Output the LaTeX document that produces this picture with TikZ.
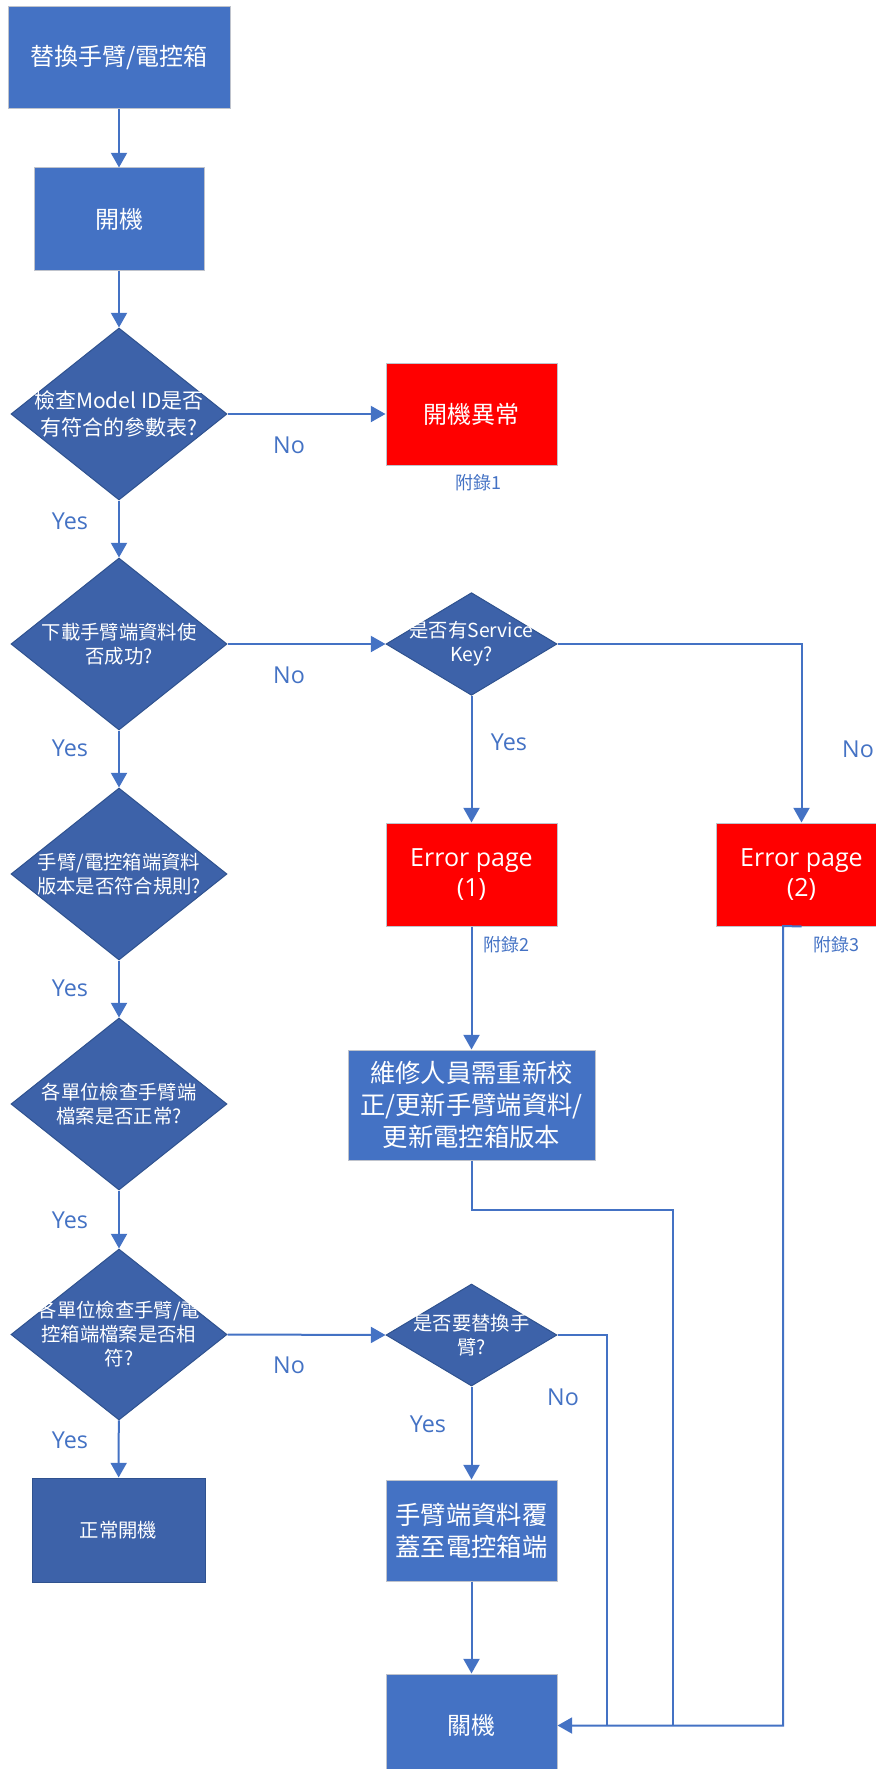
\documentclass[tikz,border=0pt]{standalone}
\usepackage{fontspec}
\setmainfont{Noto Sans CJK TC}
\newfontfamily\lat{Open Sans}
\usetikzlibrary{shapes.geometric,arrows.meta}
\definecolor{boxblue}{HTML}{4472C4}
\definecolor{diablue}{HTML}{3D62A9}
\definecolor{diaedge}{HTML}{2F528F}
\definecolor{boxedge}{HTML}{BFC3CC}
\definecolor{errred}{HTML}{FF0000}
\definecolor{lineblue}{HTML}{4472C4}
\begin{document}
\begin{tikzpicture}[x=0.75pt,y=-0.75pt,
  proc/.style={rectangle, draw=boxedge, line width=0.75pt, fill=boxblue, text=white, align=center, inner sep=0pt,
    font=\fontsize{18pt}{24pt}\selectfont},
  proctwo/.style={proc, font=\fontsize{19pt}{24pt}\selectfont},
  errbox/.style={proc, fill=errred},
  errtext/.style={errbox, font=\lat\fontsize{18.75pt}{22.5pt}\selectfont},
  darkproc/.style={proc, fill=diablue, draw=diaedge, font=\fontsize{14.5pt}{18pt}\selectfont},
  dec/.style={diamond, draw=diaedge, line width=0.75pt, fill=diablue, inner sep=0pt,
    minimum width=162pt, minimum height=129pt},
  decsmall/.style={dec, minimum width=128.25pt, minimum height=77pt},
  dtext/.style={text=white, align=center, inner sep=0pt, font=\fontsize{14.5pt}{18pt}\selectfont},
  dtextbig/.style={dtext, font=\fontsize{15.75pt}{20pt}\selectfont},
  ln/.style={draw=lineblue, line width=1.5pt},
  arr/.style={ln, -{Triangle[length=11pt,width=12pt]}},
  yn/.style={text=lineblue, inner sep=0pt, font=\lat\fontsize{17.5pt}{20pt}\selectfont},
  appx/.style={text=lineblue, inner sep=0pt, font=\fontsize{13.5pt}{16pt}\selectfont},
  ]
\useasboundingbox (0,0) rectangle (875,1769);

% left column
\node[proc, minimum width=166.5pt, minimum height=76.5pt] (start) at (119,58) {替換手臂/電控箱};
\node[proc, minimum width=127.5pt, minimum height=76.5pt] (boot) at (119,219) {開機};
\node[dec] (d1) at (119,414) {};
\node[dtextbig] (d1t) at (d1) {檢查Model ID是否\\有符合的參數表?};
\node[dec] (d2) at (119,644) {};
\node[dtext] (d2t) at (d2) {下載手臂端資料使\\否成功?};
\node[dec] (d3) at (119,874) {};
\node[dtext] (d3t) at (d3) {手臂/電控箱端資料\\版本是否符合規則?};
\node[dec] (d4) at (119,1104) {};
\node[dtext] (d4t) at (d4) {各單位檢查手臂端\\檔案是否正常?};
\node[dec, minimum height=128.25pt] (d5) at (119,1334.5) {};
\node[dtext] (d5t) at (d5) {各單位檢查手臂/電\\控箱端檔案是否相\\符?};
\node[darkproc, minimum width=129.75pt, minimum height=78pt] (normal) at (118.5,1530) {正常開機};

% middle column
\node[errbox, minimum width=128.25pt, minimum height=76.5pt] (err0) at (471.5,414) {開機異常};
\node[appx] (ap1) at (478,483) {附錄1};
\node[decsmall] (dsk) at (471.5,644) {};
\node[dtext] (dskt) at (dsk) {是否有Service\\Key?};
\node[errtext, minimum width=128.25pt, minimum height=77.25pt] (err1) at (471.5,874.5) {Error page\\(1)};
\node[appx] (ap2) at (506,945) {附錄2};
\node[proctwo, minimum width=185.25pt, minimum height=82.5pt] (fix) at (471.5,1105) {維修人員需重新校\\正/更新手臂端資料/\\更新電控箱版本};
\node[decsmall, minimum height=76.5pt] (drep) at (471.5,1335) {};
\node[dtext] (drept) at (drep) {是否要替換手\\臂?};
\node[proctwo, minimum width=128.25pt, minimum height=75.75pt] (copy) at (471.5,1530.5) {手臂端資料覆\\蓋至電控箱端};
\node[proc, minimum width=128.25pt, minimum height=77.25pt] (off) at (471.5,1725.5) {關機};

% right column
\node[errtext, minimum width=128.25pt, minimum height=77.25pt] (err2) at (801.5,874.5) {Error page\\(2)};
\node[appx] (ap3) at (836,945) {附錄3};

% helper coordinates
\coordinate (b1) at (673,1210);
\coordinate (m1) at (673,1725.5);
\coordinate (m2) at (607,1725.5);
\coordinate (k3) at (783,926);
\coordinate (m3) at (783,1725.5);

% connectors
\draw[arr] (start) -- (boot);
\draw[arr] (boot) -- (d1);
\draw[arr] (d1.east) -- (err0.west);
\draw[arr] (d1) -- (d2);
\draw[arr] (d2.east) -- (dsk.west);
\draw[arr] (d2) -- (d3);
\draw[arr] (d3) -- (d4);
\draw[arr] (d4) -- (d5);
\draw[arr] (d5) -- (normal);
\draw[arr] (d5.east) -- (drep.west);
\draw[arr] (dsk) -- (err1);
\draw[arr] (dsk.east) -| (err2.north);
\draw[arr] (err1) -- (fix);
\draw[arr] (drep) -- (copy);
\draw[arr] (copy) -- (off);
\draw[ln] (fix.south) |- (b1) -- (m1);
\draw[ln] (drep.east) -| (m2);
\draw[arr] (err2.south) -- (k3) -- (m3) -- (off.east);

% branch labels
\node[yn] (n1) at (289,445) {No};
\node[yn] (n2) at (289,675) {No};
\node[yn] (n5) at (289,1365) {No};
\node[yn] (y1) at (70,521) {Yes};
\node[yn] (y2) at (70,748) {Yes};
\node[yn] (y3) at (70,988) {Yes};
\node[yn] (y4) at (70,1220) {Yes};
\node[yn] (y5) at (70,1440) {Yes};
\node[yn] (ysk) at (509,742) {Yes};
\node[yn] (nsk) at (858,749) {No};
\node[yn] (yrep) at (428,1424) {Yes};
\node[yn] (nrep) at (563,1397) {No};
\end{tikzpicture}
\end{document}
